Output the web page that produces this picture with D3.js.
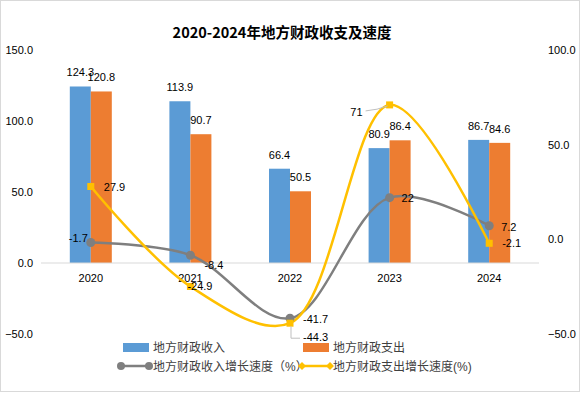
<!DOCTYPE html>
<html>
<head>
    <meta charset="utf-8">
    <title>地方财政收支及速度</title>
    <style>
        body { margin: 0; background: #fff; }
        svg text { font-family: "Liberation Sans", "Noto Sans CJK SC", sans-serif; }
    </style>
    <script src="https://cdn.jsdelivr.net/npm/d3@7"></script>
</head>
<body>
    <div id="chart"></div>
    <script>
        // values (亿元 / %)
        const years = ["2020", "2021", "2022", "2023", "2024"];
        const revenue = [124.3, 113.9, 66.4, 80.9, 86.7];
        const spending = [120.8, 90.7, 50.5, 86.4, 84.6];
        const revenueGrowth = [-1.7, -8.4, -41.7, 22, 7.2];
        const spendingGrowth = [27.9, -24.9, -44.3, 71, -2.1];
        const leftTicks = [-50, 0, 50, 100, 150];
        const rightTicks = [-50, 0, 50, 100];

        const W = 581, H = 393;
        const plot = { left: 41, right: 539, top: 50, bottom: 334 };
        const blue = "#5B9BD5", orange = "#ED7D31", grey = "#7F7F7F", gold = "#FFC000";

        const svg = d3.select("#chart").append("svg")
            .attr("width", W).attr("height", H);

        svg.append("rect")
            .attr("x", 0.5).attr("y", 0.5)
            .attr("width", W - 2).attr("height", H - 2)
            .attr("fill", "#fff").attr("stroke", "#d9d9d9");

        svg.append("text")
            .attr("x", 282).attr("y", 38)
            .attr("text-anchor", "middle")
            .attr("font-size", 14.5).attr("font-weight", "bold")
            .attr("fill", "#000")
            .style("font-family", "'Noto Sans CJK SC', sans-serif")
            .text("2020-2024年地方财政收支及速度");

        const x = d3.scaleBand().domain(years).range([plot.left, plot.right]);
        const barW = 21;
        const x1 = d3.scaleBand().domain(["rev", "spend"])
            .range([x.bandwidth() / 2 - barW, x.bandwidth() / 2 + barW]);
        const yL = d3.scaleLinear().domain([-50, 150]).range([plot.bottom, plot.top]);
        const yR = d3.scaleLinear().domain([-50, 100]).range([plot.bottom, plot.top]);

        // axes (labels only, no lines)
        const axL = svg.append("g")
            .attr("transform", `translate(${plot.left - 6},0)`)
            .call(d3.axisLeft(yL).tickValues(leftTicks).tickFormat(d3.format(".1f")).tickSize(0).tickPadding(2));
        const axR = svg.append("g")
            .attr("transform", `translate(${plot.right + 7},0)`)
            .call(d3.axisRight(yR).tickValues(rightTicks).tickFormat(d3.format(".1f")).tickSize(0).tickPadding(2));
        [axL, axR].forEach(a => {
            a.select(".domain").remove();
            a.selectAll("text").attr("font-size", 11).attr("fill", "#000")
                .style("font-family", "'Liberation Sans', sans-serif");
        });

        // bars
        const barData = [
            { key: "rev", vals: revenue, color: blue },
            { key: "spend", vals: spending, color: orange }
        ];
        barData.forEach(s => {
            const g = svg.append("g");
            g.selectAll("rect").data(s.vals).enter().append("rect")
                .attr("x", (d, i) => x(years[i]) + x1(s.key))
                .attr("y", d => yL(d))
                .attr("width", x1.bandwidth())
                .attr("height", d => yL(0) - yL(d))
                .attr("fill", s.color);
            g.selectAll("text").data(s.vals).enter().append("text")
                .attr("x", (d, i) => x(years[i]) + x1(s.key) + x1.bandwidth() / 2)
                .attr("y", d => yL(d) - 10)
                .attr("text-anchor", "middle")
                .attr("font-size", 11).attr("fill", "#000")
                .text(d => d.toFixed(1));
        });

        // category axis line at 0
        svg.append("line")
            .attr("x1", plot.left).attr("x2", plot.right)
            .attr("y1", yL(0)).attr("y2", yL(0))
            .attr("stroke", "#d9d9d9").attr("stroke-width", 1);

        svg.append("g").selectAll("text").data(years).enter().append("text")
            .attr("x", d => x(d) + x.bandwidth() / 2)
            .attr("y", yL(0) + 19)
            .attr("text-anchor", "middle")
            .attr("font-size", 11).attr("fill", "#000")
            .text(d => d);

        // growth lines, smoothed like the office chart
        const line = d3.line()
            .x((d, i) => x(years[i]) + x.bandwidth() / 2)
            .y(d => yR(d))
            .curve(d3.curveCatmullRom.alpha(0.5));

        svg.append("path").datum(revenueGrowth)
            .attr("d", line).attr("fill", "none")
            .attr("stroke", grey).attr("stroke-width", 2.5);
        svg.append("path").datum(spendingGrowth)
            .attr("d", line).attr("fill", "none")
            .attr("stroke", gold).attr("stroke-width", 2.5);

        svg.append("g").selectAll("circle").data(revenueGrowth).enter().append("circle")
            .attr("cx", (d, i) => x(years[i]) + x.bandwidth() / 2)
            .attr("cy", d => yR(d))
            .attr("r", 4.5).attr("fill", grey);
        svg.append("g").selectAll("rect").data(spendingGrowth).enter().append("rect")
            .attr("x", (d, i) => x(years[i]) + x.bandwidth() / 2 - 3.5)
            .attr("y", d => yR(d) - 3.5)
            .attr("width", 7).attr("height", 7)
            .attr("fill", gold);

        // line labels: offsets from the point
        const revLabelPos = [[-22, -1, "start"], [14, 14, "start"], [13, 5, "start"], [12, 4, "start"], [12, 5, "start"]];
        const spendLabelPos = [[13, 4, "start"], [-3, 4, "start"], [13, 18, "start"], [-27, 11, "end"], [13, 4, "start"]];
        function lineLabels(vals, pos) {
            svg.append("g").selectAll("text").data(vals).enter().append("text")
                .attr("x", (d, i) => x(years[i]) + x.bandwidth() / 2 + pos[i][0])
                .attr("y", (d, i) => yR(d) + pos[i][1])
                .attr("text-anchor", (d, i) => pos[i][2])
                .attr("font-size", 11).attr("fill", "#000")
                .text(d => d);
        }
        lineLabels(revenueGrowth, revLabelPos);
        lineLabels(spendingGrowth, spendLabelPos);

        // leader lines for 2022 and 2023 yellow labels
        const p22 = [x("2022") + x.bandwidth() / 2, yR(spendingGrowth[2])];
        svg.append("path")
            .attr("d", `M${p22[0] + 1},${p22[1] + 3}L${p22[0] + 1},${p22[1] + 15}L${p22[0] + 10},${p22[1] + 15}`)
            .attr("fill", "none").attr("stroke", "#bfbfbf").attr("stroke-width", 1);
        const p23 = [x("2023") + x.bandwidth() / 2, yR(spendingGrowth[3])];
        svg.append("path")
            .attr("d", `M${p23[0] - 24},${p23[1] + 6}Q${p23[0] - 12},${p23[1] + 5} ${p23[0] - 2},${p23[1] + 1}`)
            .attr("fill", "none").attr("stroke", "#bfbfbf").attr("stroke-width", 1);

        // legend
        const lg = svg.append("g").attr("font-size", 12);
        lg.append("rect").attr("x", 123).attr("y", 343).attr("width", 26).attr("height", 9).attr("fill", blue);
        lg.append("text").attr("x", 153).attr("y", 351.5).attr("fill", "#404040").text("地方财政收入");
        lg.append("rect").attr("x", 303).attr("y", 343).attr("width", 26).attr("height", 9).attr("fill", orange);
        lg.append("text").attr("x", 333).attr("y", 351.5).attr("fill", "#404040").text("地方财政支出");

        lg.append("line").attr("x1", 121).attr("x2", 149).attr("y1", 366).attr("y2", 366)
            .attr("stroke", grey).attr("stroke-width", 2.5);
        [121, 149].forEach(cx => lg.append("circle").attr("cx", cx).attr("cy", 366).attr("r", 4).attr("fill", grey));
        lg.append("text").attr("x", 153).attr("y", 370.5).attr("fill", "#404040").text("地方财政收入增长速度（%）");

        lg.append("line").attr("x1", 302).attr("x2", 330).attr("y1", 366).attr("y2", 366)
            .attr("stroke", gold).attr("stroke-width", 2.5);
        [302, 330].forEach(cx => lg.append("path")
            .attr("transform", `translate(${cx},366)`)
            .attr("d", d3.symbol(d3.symbolDiamond2, 40)())
            .attr("fill", gold));
        lg.append("text").attr("x", 333).attr("y", 370.5).attr("fill", "#404040").text("地方财政支出增长速度(%)");
    </script>
</body>
</html>
